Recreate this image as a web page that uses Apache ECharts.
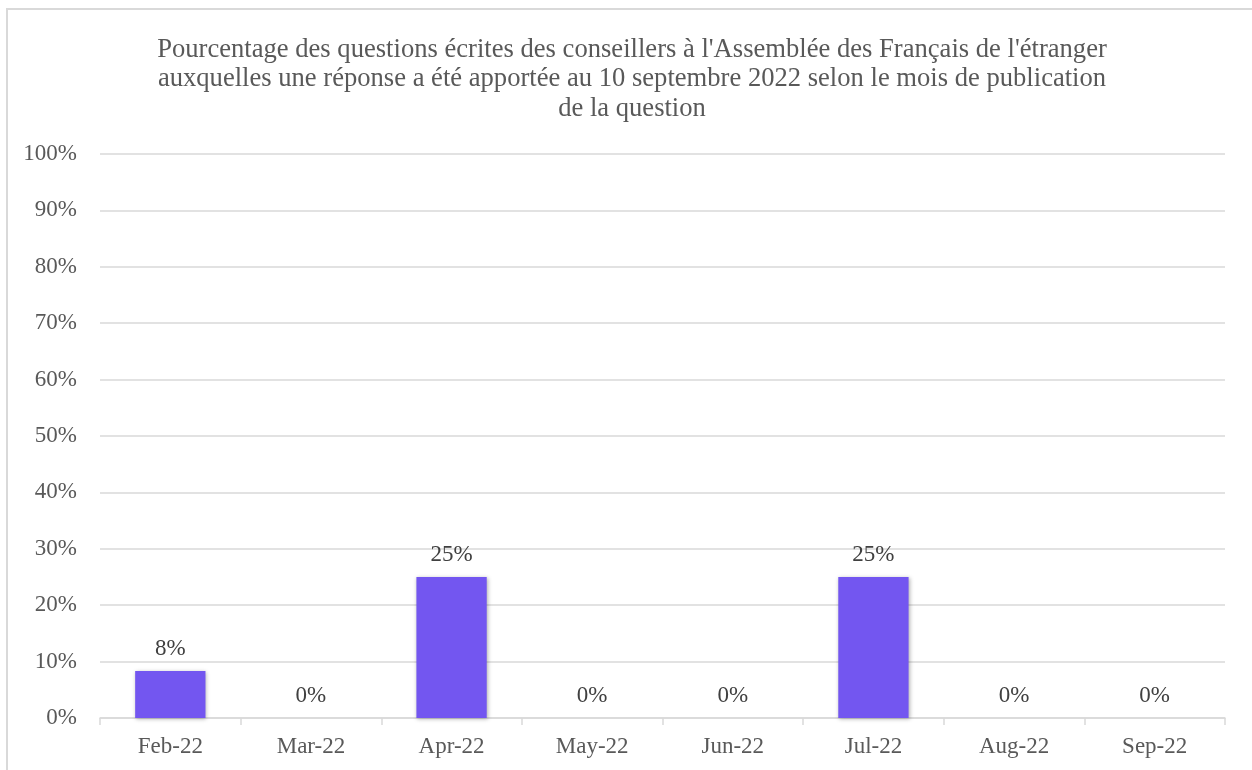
<!DOCTYPE html>
<html>
<head>
<meta charset="utf-8">
<title>Questions écrites AFE</title>
<script src="https://cdn.jsdelivr.net/npm/echarts@6/dist/echarts.min.js"></script>
<style>
    html, body { margin: 0; padding: 0; background: #fff; overflow: hidden; }
    #frame {
        position: absolute; left: 6px; top: 8px; width: 1300px; height: 820px;
        border: 2px solid #d9d9d9; box-sizing: border-box;
    }
    #container { position: absolute; left: 0; top: 0; width: 1252px; height: 770px; }
</style>
</head>
<body>
<div id="frame"></div>
<div id="container"></div>
<script>
    // mois de publication
    var months = ['Feb-22', 'Mar-22', 'Apr-22', 'May-22', 'Jun-22', 'Jul-22', 'Aug-22', 'Sep-22'];
    // part des questions avec réponse (%)
    var answered = [8.33, 0, 25, 0, 0, 25, 0, 0];
    var yTicks = [0, 10, 20, 30, 40, 50, 60, 70, 80, 90, 100];

    var titleText = "Pourcentage des questions écrites des conseillers à l'Assemblée des Français de l'étranger\n" +
        "auxquelles une réponse a été apportée au 10 septembre 2022 selon le mois de publication\n" +
        "de la question";

    var serif = '"Liberation Serif", "Times New Roman", serif';
    var grey = '#595959';

    var myChart = echarts.init(document.getElementById('container'));

    var option = {
        animation: false,
        title: {
            text: titleText,
            left: 627,
            textAlign: 'center',
            top: 30,
            textStyle: {
                fontFamily: serif,
                fontSize: 26.6,
                fontWeight: 'normal',
                color: grey,
                lineHeight: 29.5,
                align: 'center'
            }
        },
        grid: {
            left: 100,
            right: 27,
            top: 154,
            bottom: 52,
            containLabel: false
        },
        xAxis: {
            type: 'category',
            data: months,
            axisLine: { lineStyle: { color: '#d9d9d9', width: 1.5 } },
            axisTick: { show: true, length: 7, lineStyle: { color: '#d9d9d9', width: 1.5 } },
            axisLabel: {
                fontFamily: serif,
                fontSize: 23,
                color: grey,
                margin: 17
            }
        },
        yAxis: {
            type: 'value',
            min: yTicks[0],
            max: yTicks[yTicks.length - 1],
            interval: 10,
            axisLine: { show: false },
            axisTick: { show: false },
            splitLine: { lineStyle: { color: '#d9d9d9', width: 1.5 } },
            axisLabel: {
                fontFamily: serif,
                fontSize: 23,
                color: grey,
                margin: 23,
                formatter: '{value}%'
            }
        },
        series: [{
            type: 'bar',
            data: answered,
            barWidth: '50%',
            itemStyle: {
                color: '#7356f0',
                shadowColor: 'rgba(0,0,0,0.3)',
                shadowBlur: 4,
                shadowOffsetX: 1,
                shadowOffsetY: 1
            },
            label: {
                show: true,
                position: 'top',
                distance: 11,
                fontFamily: serif,
                fontSize: 23,
                color: '#404040',
                formatter: function(p) { return Math.round(p.value) + '%'; }
            }
        }]
    };

    myChart.setOption(option);
</script>
</body>
</html>
